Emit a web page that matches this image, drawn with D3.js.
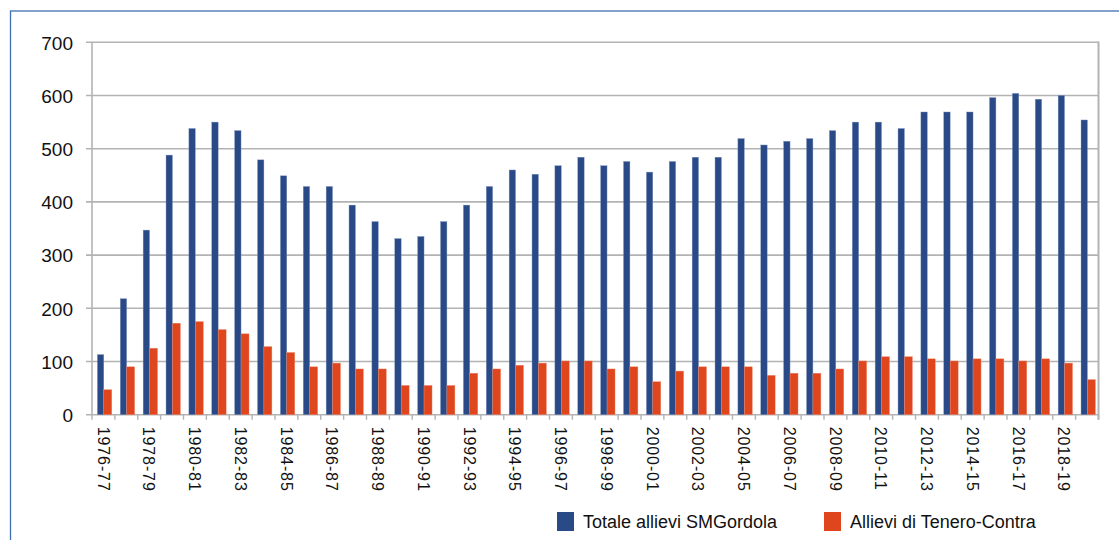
<!DOCTYPE html>
<html>
<head>
<meta charset="utf-8">
<script src="https://cdn.jsdelivr.net/npm/d3@7"></script>
<style>
    body { margin: 0; background: #fff; overflow: hidden; }
    text { font-family: "Liberation Sans", Arial, sans-serif; fill: #111; }
</style>
</head>
<body>
<div id="chart"></div>
<script>
const years = ["1976-77","1977-78","1978-79","1979-80","1980-81","1981-82","1982-83","1983-84","1984-85","1985-86",
    "1986-87","1987-88","1988-89","1989-90","1990-91","1991-92","1992-93","1993-94","1994-95","1995-96",
    "1996-97","1997-98","1998-99","1999-00","2000-01","2001-02","2002-03","2003-04","2004-05","2005-06",
    "2006-07","2007-08","2008-09","2009-10","2010-11","2011-12","2012-13","2013-14","2014-15","2015-16",
    "2016-17","2017-18","2018-19","2019-20"];

const totale = [113, 218, 347, 488, 538, 550, 534, 479, 449, 429,
    429, 394, 363, 331, 335, 363, 394, 429, 460, 452,
    468, 484, 468, 476, 456, 476, 484, 484, 519, 507,
    514, 519, 534, 550, 550, 538, 569, 569, 569, 596,
    604, 593, 600, 554];

const tenero = [47, 90, 125, 172, 175, 160, 152, 128, 117, 90,
    97, 86, 86, 55, 55, 55, 78, 86, 93, 97,
    101, 101, 86, 90, 62, 82, 90, 90, 90, 74,
    78, 78, 86, 101, 109, 109, 105, 101, 105, 105,
    101, 105, 97, 66];

const seriesNames = ["Totale allievi SMGordola", "Allievi di Tenero-Contra"];
const seriesColors = ["#2a4a87", "#df461e"];
const yTicks = [0, 100, 200, 300, 400, 500, 600, 700];

const W = 1119, H = 540;
const plot = {left: 92, right: 1098.5, top: 42.3, bottom: 414.7};

const svg = d3.select("#chart").append("svg")
    .attr("width", W)
    .attr("height", H)
    .style("display", "block");

svg.append("rect")
    .attr("width", W).attr("height", H)
    .attr("fill", "#fff");

// outer frame (runs off the right and bottom edges)
svg.append("rect")
    .attr("x", 10.5).attr("y", 11)
    .attr("width", 1200).attr("height", 700)
    .attr("fill", "none")
    .attr("stroke", "#3f6fb4")
    .attr("stroke-width", 1.3);

const x = d3.scaleBand()
    .domain(years)
    .range([plot.left, plot.right]);

const x1 = d3.scaleBand()
    .domain([0, 1])
    .range([5, x.step() - 3.5]);

const y = d3.scaleLinear()
    .domain([0, 700])
    .range([plot.bottom, plot.top]);

// gridlines
svg.append("g").selectAll("line")
    .data(yTicks)
    .enter()
    .append("line")
    .attr("x1", plot.left - 6)
    .attr("x2", plot.right)
    .attr("y1", d => y(d))
    .attr("y2", d => y(d))
    .attr("stroke", "#b3b3b3")
    .attr("stroke-width", 1.6);

// y labels
const yAxis = d3.axisLeft(y)
    .tickValues(yTicks)
    .tickSize(0)
    .tickFormat(d3.format("d"));

const ga = svg.append("g")
    .attr("transform", "translate(73,0)")
    .call(yAxis);
ga.select(".domain").remove();
ga.selectAll(".tick text")
    .attr("x", 0)
    .attr("dy", "0.36em")
    .style("font-size", "19px")
    .style("font-family", "'Liberation Sans', Arial, sans-serif")
    .attr("fill", "#111");

// left & right frame of the plot area
svg.append("line")
    .attr("x1", plot.left).attr("x2", plot.left)
    .attr("y1", plot.top).attr("y2", plot.bottom)
    .attr("stroke", "#b3b3b3").attr("stroke-width", 1.6);
svg.append("line")
    .attr("x1", plot.right).attr("x2", plot.right)
    .attr("y1", plot.top - 0.8).attr("y2", plot.bottom + 5)
    .attr("stroke", "#b3b3b3").attr("stroke-width", 2);

// bars
const groups = svg.append("g").selectAll("g")
    .data(years)
    .enter()
    .append("g")
    .attr("transform", d => `translate(${x(d)},0)`);

groups.append("rect")
    .attr("x", x1(0) + 0.4)
    .attr("width", x1.bandwidth() - 0.8)
    .attr("y", (d, i) => y(totale[i]))
    .attr("height", (d, i) => y(0) - y(totale[i]))
    .attr("fill", seriesColors[0])
    .attr("stroke", "#7f93bd")
    .attr("stroke-width", 0.4);

groups.append("rect")
    .attr("x", x1(1) - 0.4)
    .attr("width", x1.bandwidth() + 0.8)
    .attr("y", (d, i) => y(tenero[i]))
    .attr("height", (d, i) => y(0) - y(tenero[i]))
    .attr("fill", seriesColors[1])
    .attr("stroke", "#ec8a70")
    .attr("stroke-width", 0.4);

// x axis
const xAxis = d3.axisBottom(x)
    .tickSize(0)
    .tickFormat((d, i) => i % 2 === 0 ? d : "");

const gx = svg.append("g")
    .attr("transform", `translate(0,${plot.bottom})`)
    .call(xAxis);
gx.select(".domain").remove();
gx.selectAll(".tick text")
    .attr("transform", "translate(0,12) rotate(90)")
    .attr("x", 0).attr("y", 0)
    .attr("dy", "0.36em")
    .attr("text-anchor", "start")
    .style("font-size", "16px")
    .style("letter-spacing", "0.9px")
    .style("font-family", "'Liberation Sans', Arial, sans-serif")
    .attr("fill", "#111");

// category boundary ticks
svg.append("g").selectAll("line")
    .data(years.concat(["end"]))
    .enter()
    .append("line")
    .attr("x1", (d, i) => plot.left + i * x.step())
    .attr("x2", (d, i) => plot.left + i * x.step())
    .attr("y1", plot.bottom)
    .attr("y2", plot.bottom + 5)
    .attr("stroke", "#b3b3b3")
    .attr("stroke-width", 1.4);

// legend
const legendX = [557, 824];
const legend = svg.append("g").selectAll("g")
    .data(seriesNames)
    .enter()
    .append("g")
    .attr("transform", (d, i) => `translate(${legendX[i]},512)`);

legend.append("rect")
    .attr("width", 17).attr("height", 19)
    .attr("fill", (d, i) => seriesColors[i]);

legend.append("text")
    .attr("x", 26).attr("y", 10)
    .attr("dy", "0.36em")
    .style("font-size", "18px")
    .text(d => d);
</script>
</body>
</html>
